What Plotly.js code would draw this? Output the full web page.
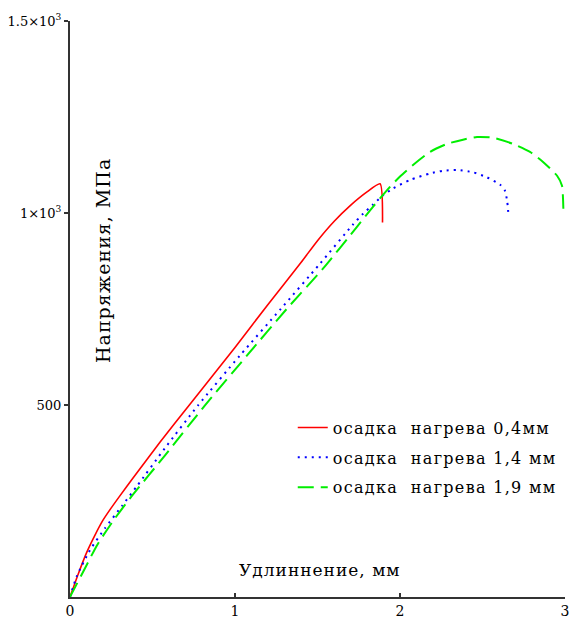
<!DOCTYPE html>
<html>
<head>
<meta charset="utf-8">
<script src="https://cdn.plot.ly/plotly-3.0.1.min.js"></script>
<style>
html, body { margin: 0; padding: 0; background: #fff; }
text.annotation-text { letter-spacing: 1px; }
text.legendtext { letter-spacing: 1.3px; }
</style>
</head>
<body>
<div id="chart" style="width:573px;height:620px;"></div>
<script>
// Series 1: осадка нагрева 0,4мм
const redX = [0, 0.05, 0.1, 0.15, 0.2, 0.25, 0.3, 0.382, 0.545, 0.727, 1.0, 1.2, 1.4, 1.5, 1.6, 1.7, 1.8, 1.879, 1.894];
const redY = [0, 60, 115, 160, 200, 232, 262, 310, 403, 502, 650, 762, 871, 928, 978, 1020, 1055, 1076, 975];

// Series 2: осадка нагрева 1,4 мм
const blueX = [0, 0.042, 0.121, 0.212, 0.315, 0.406, 0.576, 0.776, 1.03, 1.279, 1.515, 1.715, 1.776, 1.836, 1.897, 1.958, 2.061, 2.182, 2.261, 2.345, 2.442, 2.527, 2.606, 2.636, 2.65, 2.656];
const blueY = [0, 55, 122, 179, 237, 289, 388, 499, 629, 751, 868, 970, 998, 1022, 1046, 1064, 1086, 1103, 1110, 1112, 1106, 1093, 1074, 1058, 1029, 1003];

// Series 3: осадка нагрева 1,9 мм
const greenX = [0, 0.012, 0.091, 0.164, 0.261, 0.364, 0.576, 0.818, 1.073, 1.315, 1.533, 1.739, 1.836, 1.939, 2.0, 2.079, 2.182, 2.285, 2.382, 2.467, 2.564, 2.685, 2.788, 2.867, 2.952, 2.982, 2.988, 2.99];
const greenY = [0, 10, 75, 135, 198, 257, 369, 499, 629, 751, 855, 964, 1016, 1068, 1095, 1125, 1159, 1180, 1191, 1198, 1196, 1180, 1159, 1133, 1097, 1071, 1037, 1011];

const seriesNames = ["осадка  нагрева 0,4мм", "осадка  нагрева 1,4 мм", "осадка  нагрева 1,9 мм"];

const xTickVals = [0, 1, 2, 3];
const xTickText = ["0", "1", "2", "3"];
const yTickVals = [500, 1000, 1500];
const yTickText = ["500", "1×10<sup>3</sup>", "1.5×10<sup>3</sup>"];

const xTitle = "Удлиннение, мм";
const yTitle = "Напряжения, МПа";

const serif = "DejaVu Serif";

const traces = [
  {x: redX, y: redY, name: seriesNames[0], type: "scatter", mode: "lines", legendgroup: "a",
   line: {color: "#ff0000", width: 1.6, shape: "spline", smoothing: 0.6}},
  {x: blueX, y: blueY, name: seriesNames[1], type: "scatter", mode: "lines", legendgroup: "b",
   line: {color: "#0000ff", width: 2, dash: "2px,5px", shape: "spline", smoothing: 0.6}},
  {x: greenX, y: greenY, name: seriesNames[2], type: "scatter", mode: "lines", legendgroup: "c",
   line: {color: "#00ee00", width: 2, dash: "16px,7px", shape: "spline", smoothing: 0.6}}
];

const layout = {
  width: 573, height: 620,
  margin: {l: 70, r: 8, t: 21, b: 23, pad: 0},
  paper_bgcolor: "#ffffff", plot_bgcolor: "#ffffff",
  font: {family: serif, color: "#000", size: 14},
  showlegend: true,
  legend: {
    x: 0.45, y: 0.3235, xanchor: "left", yanchor: "top",
    bgcolor: "rgba(0,0,0,0)", borderwidth: 0,
    font: {family: serif, size: 16, color: "#000"},
    tracegroupgap: 6
  },
  xaxis: {
    range: [0, 3], showgrid: false, zeroline: false,
    showline: true, linecolor: "#333", linewidth: 2,
    ticks: "inside", ticklen: 4, tickwidth: 1.5, tickcolor: "#333",
    tickmode: "array", tickvals: xTickVals, ticktext: xTickText,
    tickfont: {family: serif, size: 14, color: "#000"}
  },
  yaxis: {
    range: [0, 1500], showgrid: false, zeroline: false,
    showline: true, linecolor: "#333", linewidth: 2,
    ticks: "outside", ticklen: 4, tickwidth: 1.5, tickcolor: "#333",
    tickmode: "array", tickvals: yTickVals, ticktext: yTickText,
    tickfont: {family: serif, size: 13, color: "#000"}
  },
  annotations: [
    {text: xTitle, xref: "paper", yref: "paper", x: 0.337, y: 0.047,
     xanchor: "left", yanchor: "middle", align: "left", showarrow: false,
     font: {family: serif, size: 17, color: "#000"}},
    {text: yTitle, xref: "paper", yref: "paper", x: 0.0667, y: 0.402,
     xanchor: "center", yanchor: "bottom", align: "left", textangle: -90, showarrow: false,
     font: {family: serif, size: 19, color: "#000"}}
  ]
};

Plotly.newPlot("chart", traces, layout, {displayModeBar: false, staticPlot: true});
</script>
</body>
</html>
